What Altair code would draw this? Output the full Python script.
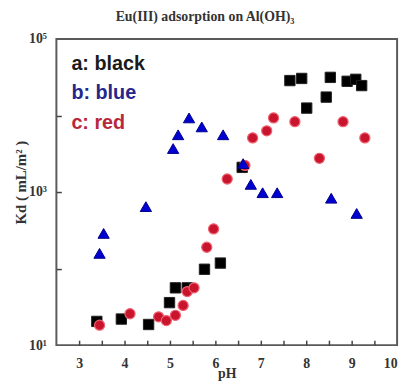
import altair as alt
import pandas as pd

# ---- data ----
black_ph = [3.39, 3.93, 4.53, 4.99, 5.12, 5.38, 5.76, 6.11, 6.59, 7.64, 7.90, 8.01, 8.44, 8.53, 8.90, 9.09, 9.22]
black_kd = [20.4, 21.9, 18.6, 35.9, 56, 56, 98, 118, 2100, 28600, 30500, 12500, 17400, 31500, 28000, 29700, 24600]

blue_ph = [3.45, 3.54, 4.47, 5.07, 5.18, 5.42, 5.70, 6.17, 6.61, 6.78, 7.04, 7.36, 8.55, 9.11]
blue_kd = [158, 288, 645, 3700, 5600, 9300, 7100, 5600, 2350, 1260, 980, 980, 830, 525]

red_ph = [3.45, 4.12, 4.75, 4.92, 5.12, 5.29, 5.38, 5.53, 5.81, 5.96, 6.26, 6.65, 6.82, 7.13, 7.28, 7.75, 8.29, 8.81, 9.29]
red_kd = [18.2, 25.7, 23.4, 20.9, 24.5, 33, 50, 56, 190, 330, 1480, 2230, 5100, 6300, 9300, 8300, 2760, 8300, 5100]

legend_labels = ["a: black", "b: blue", "c: red"]
legend_colors = ["#1a1a1a", "#26268c", "#b8283c"]
legend_ph = [2.83, 2.83, 2.83]
legend_kd = [47000, 19500, 7900]

x_label_values = [3, 4, 5, 6, 7, 8, 9, 10]
x_tick_values = [3, 3.5, 4, 4.5, 5, 5.5, 6, 6.5, 7, 7.5, 8, 8.5, 9, 9.5]
y_label_values = [10, 1000, 100000]
y_tick_values = [100, 1000, 10000]

title_text = "Eu(III) adsorption on Al(OH)\u2083"
x_title = "pH"
y_title = "Kd ( mL/m\u00b2 )"

W, H = 345, 310
SERIF = "Liberation Serif"

xs = alt.Scale(domain=[2.5, 10], nice=False, zero=False)
ys = alt.Scale(type="log", domain=[10, 100000], nice=False)

black_df = pd.DataFrame({"pH": black_ph, "Kd": black_kd})
blue_df = pd.DataFrame({"pH": blue_ph, "Kd": blue_kd})
red_df = pd.DataFrame({"pH": red_ph, "Kd": red_kd})
leg_df = pd.DataFrame({"pH": legend_ph, "Kd": legend_kd, "label": legend_labels, "color": legend_colors})

x_label_axis = alt.Axis(orient="bottom", values=x_label_values, format="d", ticks=False, domain=False,
                        grid=False, labelFont=SERIF, labelFontWeight="bold", labelFontSize=14,
                        labelColor="#333333", labelPadding=12, title=x_title, titleFont=SERIF,
                        titleFontWeight="bold", titleFontSize=14, titleColor="#333333", titlePadding=-4)
y_label_axis = alt.Axis(orient="left", values=y_label_values, ticks=False, domain=False, grid=False,
                        labelExpr="datum.value == 10 ? '10\u00b9' : datum.value == 1000 ? '10\u00b3' : '10\u2075'",
                        labelFont=SERIF, labelFontWeight="bold", labelFontSize=14, labelColor="#333333",
                        labelPadding=10, title=y_title, titleFont=SERIF, titleFontWeight="bold",
                        titleFontSize=15, titleColor="#333333", titleX=-36, titleY=145,
                        titleAngle=270, titleAlign="center", titleBaseline="middle")

x_tick_axis = alt.Axis(orient="top", offset=-H, values=x_tick_values, labels=False, domain=False,
                       grid=False, tickSize=5, tickColor="#444444", tickWidth=1.5, title=None)
y_tick_axis = alt.Axis(orient="right", offset=-W, values=y_tick_values, labels=False, domain=False,
                       grid=False, tickSize=5, tickColor="#444444", tickWidth=1.5, title=None)

black = alt.Chart(black_df).mark_point(shape="square", filled=True, size=110, color="#000000",
                                       stroke="#222222", strokeWidth=1, opacity=1).encode(
    x=alt.X("pH:Q", scale=xs, axis=x_label_axis),
    y=alt.Y("Kd:Q", scale=ys, axis=y_label_axis),
)

red = alt.Chart(red_df).mark_point(shape="circle", filled=True, size=105, color="#c8142c",
                                   stroke="#f06070", strokeWidth=1.2, opacity=1).encode(
    x=alt.X("pH:Q", scale=xs, axis=x_tick_axis),
    y=alt.Y("Kd:Q", scale=ys, axis=y_tick_axis),
)

blue = alt.Chart(blue_df).mark_point(shape="triangle-up", filled=True, size=130, color="#0000d0",
                                     stroke="#00008a", strokeWidth=1, opacity=1).encode(
    x=alt.X("pH:Q", scale=xs, axis=None),
    y=alt.Y("Kd:Q", scale=ys, axis=None),
)

legend = alt.Chart(leg_df).mark_text(font="Liberation Sans", fontWeight="bold", fontSize=20,
                                     align="left", baseline="middle").encode(
    x=alt.X("pH:Q", scale=xs, axis=None),
    y=alt.Y("Kd:Q", scale=ys, axis=None),
    text="label:N",
    color=alt.Color("color:N", scale=None),
)

chart = alt.layer(black, red, blue, legend).resolve_axis(x="independent", y="independent").properties(
    width=W, height=H,
    title=alt.TitleParams(title_text, font=SERIF, fontSize=14, fontWeight="bold", color="#333333",
                          anchor="middle", offset=8, dx=-22),
    autosize=alt.AutoSizeParams(type="none"),
    padding={"left": 49, "top": 29, "right": 8, "bottom": 36},
).configure_view(stroke="#5a5a5a", strokeWidth=2)

chart.save("out.html", embed_options={"renderer": "svg", "actions": False})
